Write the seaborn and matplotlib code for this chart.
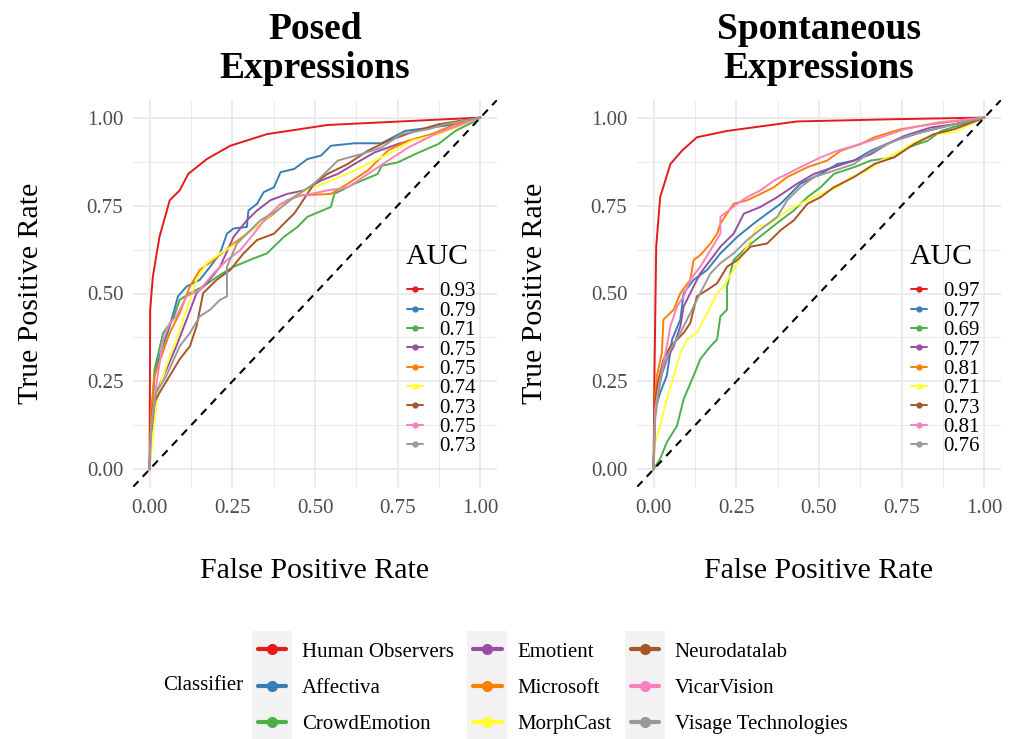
import numpy as np
import pandas as pd
import matplotlib.pyplot as plt
import seaborn as sns
from matplotlib.lines import Line2D
from matplotlib.patches import Rectangle

# classifiers, colours (Set1) and AUC values shown in each panel
classifiers = ["Human Observers", "Affectiva", "CrowdEmotion", "Emotient", "Microsoft",
               "MorphCast", "Neurodatalab", "VicarVision", "Visage Technologies"]
auc_posed = ["0.93", "0.79", "0.71", "0.75", "0.75", "0.74", "0.73", "0.75", "0.73"]
auc_spont = ["0.97", "0.77", "0.69", "0.77", "0.81", "0.71", "0.73", "0.81", "0.76"]
ticks = [0, 0.25, 0.5, 0.75, 1.0]
tick_labels = ["0.00", "0.25", "0.50", "0.75", "1.00"]
minor_ticks = [0.125, 0.375, 0.625, 0.875]

# ROC points (fpr, tpr)
posed_human = [(0, 0), (0.002, 0.454), (0.010, 0.548), (0.030, 0.661), (0.061, 0.765),
               (0.091, 0.793), (0.117, 0.840), (0.173, 0.882), (0.244, 0.920),
               (0.355, 0.953), (0.538, 0.979), (1, 1)]
posed_affectiva = [(0, 0), (0.005, 0.124), (0.015, 0.266), (0.030, 0.322), (0.061, 0.407),
                   (0.086, 0.492), (0.112, 0.520), (0.152, 0.539), (0.183, 0.576),
                   (0.213, 0.614), (0.234, 0.670), (0.254, 0.685), (0.294, 0.689),
                   (0.299, 0.736), (0.325, 0.755), (0.345, 0.788), (0.376, 0.802),
                   (0.396, 0.845), (0.437, 0.854), (0.477, 0.882), (0.518, 0.892),
                   (0.548, 0.920), (0.619, 0.927), (0.701, 0.927), (0.772, 0.962),
                   (0.924, 0.981), (1, 1)]
posed_crowd = [(0, 0), (0.005, 0.124), (0.015, 0.284), (0.041, 0.388), (0.071, 0.426),
               (0.091, 0.482), (0.122, 0.501), (0.162, 0.520), (0.213, 0.553),
               (0.254, 0.576), (0.315, 0.600), (0.355, 0.614), (0.406, 0.661),
               (0.447, 0.689), (0.477, 0.718), (0.548, 0.746), (0.558, 0.783),
               (0.619, 0.812), (0.690, 0.840), (0.701, 0.863), (0.751, 0.873),
               (0.802, 0.896), (0.873, 0.925), (0.924, 0.962), (0.975, 0.986), (1, 1)]
posed_emotient = [(0, 0), (0.005, 0.077), (0.020, 0.218), (0.051, 0.284), (0.081, 0.350),
                  (0.112, 0.426), (0.142, 0.501), (0.173, 0.529), (0.213, 0.576),
                  (0.254, 0.661), (0.294, 0.708), (0.325, 0.736), (0.365, 0.765),
                  (0.416, 0.783), (0.467, 0.793), (0.518, 0.821), (0.569, 0.840),
                  (0.619, 0.868), (0.680, 0.901), (0.751, 0.925), (0.822, 0.944),
                  (0.893, 0.962), (1, 1)]
posed_microsoft = [(0, 0), (0.005, 0.171), (0.015, 0.266), (0.036, 0.322), (0.061, 0.388),
                   (0.091, 0.444), (0.122, 0.520), (0.152, 0.567), (0.193, 0.595),
                   (0.254, 0.642), (0.294, 0.670), (0.335, 0.699), (0.376, 0.727),
                   (0.416, 0.765), (0.457, 0.779), (0.548, 0.783), (0.599, 0.812),
                   (0.660, 0.850), (0.721, 0.907), (0.782, 0.934), (0.853, 0.953),
                   (0.924, 0.981), (1, 1)]
posed_morphcast = [(0, 0), (0.010, 0.096), (0.025, 0.218), (0.051, 0.294), (0.081, 0.369),
                   (0.112, 0.454), (0.142, 0.539), (0.173, 0.586), (0.213, 0.614),
                   (0.264, 0.642), (0.294, 0.670), (0.345, 0.708), (0.396, 0.746),
                   (0.447, 0.783), (0.497, 0.802), (0.548, 0.821), (0.619, 0.849),
                   (0.680, 0.878), (0.741, 0.906), (0.792, 0.934), (0.873, 0.953), (1, 1)]
posed_neuro = [(0, 0), (0.002, 0.077), (0.010, 0.181), (0.030, 0.218), (0.061, 0.266),
               (0.091, 0.313), (0.122, 0.350), (0.142, 0.407), (0.162, 0.501),
               (0.203, 0.539), (0.244, 0.567), (0.284, 0.614), (0.325, 0.652),
               (0.376, 0.670), (0.416, 0.708), (0.437, 0.727), (0.457, 0.755),
               (0.497, 0.812), (0.538, 0.840), (0.599, 0.868), (0.660, 0.906),
               (0.721, 0.934), (0.792, 0.958), (0.873, 0.981), (1, 1)]
posed_vicar = [(0, 0), (0.005, 0.124), (0.020, 0.237), (0.041, 0.369), (0.061, 0.416),
               (0.081, 0.435), (0.112, 0.492), (0.152, 0.510), (0.193, 0.557),
               (0.234, 0.595), (0.274, 0.623), (0.315, 0.670), (0.355, 0.718),
               (0.396, 0.755), (0.437, 0.774), (0.487, 0.783), (0.538, 0.793),
               (0.599, 0.802), (0.660, 0.840), (0.721, 0.878), (0.782, 0.915),
               (0.863, 0.953), (1, 1)]
posed_visage = [(0, 0), (0.005, 0.124), (0.020, 0.218), (0.051, 0.266), (0.091, 0.350),
                (0.122, 0.388), (0.152, 0.435), (0.183, 0.454), (0.213, 0.482),
                (0.234, 0.492), (0.234, 0.576), (0.264, 0.642), (0.294, 0.670),
                (0.335, 0.708), (0.386, 0.736), (0.437, 0.774), (0.497, 0.812),
                (0.538, 0.849), (0.569, 0.878), (0.640, 0.896), (0.701, 0.915),
                (0.761, 0.953), (0.843, 0.967), (0.893, 0.981), (1, 1)]

# ROC points (fpr, tpr)
spont_human = [(0, 0), (0.002, 0.218), (0.008, 0.633), (0.020, 0.774), (0.051, 0.868),
               (0.086, 0.906), (0.131, 0.944), (0.222, 0.962), (0.434, 0.989),
               (0.707, 0.995), (1, 1)]
spont_affectiva = [(0, 0), (0.005, 0.171), (0.020, 0.218), (0.040, 0.266), (0.056, 0.369),
                   (0.081, 0.426), (0.091, 0.501), (0.121, 0.539), (0.162, 0.567),
                   (0.202, 0.614), (0.253, 0.661), (0.303, 0.699), (0.343, 0.727),
                   (0.384, 0.755), (0.444, 0.812), (0.505, 0.840), (0.556, 0.868),
                   (0.606, 0.878), (0.657, 0.906), (0.727, 0.934), (0.808, 0.958),
                   (0.909, 0.981), (1, 1)]
spont_crowd = [(0, 0), (0.020, 0.030), (0.040, 0.077), (0.071, 0.124), (0.091, 0.200),
               (0.121, 0.266), (0.141, 0.313), (0.172, 0.350), (0.192, 0.369),
               (0.202, 0.435), (0.222, 0.454), (0.222, 0.520), (0.242, 0.595),
               (0.283, 0.633), (0.333, 0.670), (0.384, 0.708), (0.424, 0.736),
               (0.465, 0.774), (0.505, 0.802), (0.545, 0.840), (0.606, 0.859),
               (0.657, 0.878), (0.727, 0.887), (0.768, 0.915), (0.828, 0.934),
               (0.869, 0.962), (1, 1)]
spont_emotient = [(0, 0), (0.005, 0.171), (0.020, 0.256), (0.040, 0.313), (0.061, 0.350),
                  (0.081, 0.407), (0.091, 0.463), (0.121, 0.520), (0.141, 0.557),
                  (0.172, 0.595), (0.202, 0.633), (0.242, 0.670), (0.273, 0.727),
                  (0.323, 0.746), (0.374, 0.774), (0.434, 0.812), (0.485, 0.840),
                  (0.545, 0.859), (0.606, 0.878), (0.657, 0.896), (0.707, 0.925),
                  (0.758, 0.948), (0.838, 0.972), (0.909, 0.981), (1, 1)]
spont_microsoft = [(0, 0), (0.005, 0.218), (0.010, 0.266), (0.025, 0.331), (0.030, 0.426),
                   (0.061, 0.454), (0.081, 0.501), (0.111, 0.539), (0.121, 0.595),
                   (0.141, 0.609), (0.172, 0.642), (0.192, 0.670), (0.202, 0.699),
                   (0.222, 0.727), (0.242, 0.755), (0.283, 0.765), (0.323, 0.783),
                   (0.364, 0.802), (0.404, 0.831), (0.465, 0.859), (0.525, 0.878),
                   (0.566, 0.906), (0.626, 0.925), (0.667, 0.944), (0.747, 0.967),
                   (0.838, 0.981), (1, 1)]
spont_morphcast = [(0, 0), (0.005, 0.077), (0.020, 0.124), (0.040, 0.200), (0.061, 0.266),
                   (0.081, 0.331), (0.101, 0.369), (0.131, 0.388), (0.162, 0.444),
                   (0.192, 0.501), (0.212, 0.520), (0.253, 0.586), (0.283, 0.633),
                   (0.313, 0.689), (0.354, 0.699), (0.404, 0.736), (0.444, 0.755),
                   (0.505, 0.783), (0.556, 0.802), (0.596, 0.831), (0.646, 0.849),
                   (0.687, 0.878), (0.737, 0.901), (0.788, 0.929), (0.848, 0.953),
                   (0.909, 0.958), (1, 1)]
spont_neuro = [(0, 0), (0.005, 0.200), (0.015, 0.256), (0.030, 0.313), (0.051, 0.350),
               (0.071, 0.369), (0.091, 0.388), (0.111, 0.416), (0.131, 0.492),
               (0.162, 0.510), (0.192, 0.529), (0.222, 0.576), (0.253, 0.595),
               (0.293, 0.633), (0.343, 0.642), (0.384, 0.680), (0.424, 0.708),
               (0.465, 0.755), (0.505, 0.774), (0.545, 0.802), (0.606, 0.831),
               (0.667, 0.868), (0.727, 0.887), (0.788, 0.925), (0.848, 0.953),
               (0.909, 0.967), (1, 1)]
spont_vicar = [(0, 0), (0.005, 0.171), (0.020, 0.256), (0.040, 0.350), (0.051, 0.407),
               (0.071, 0.463), (0.091, 0.492), (0.111, 0.539), (0.141, 0.576),
               (0.172, 0.623), (0.202, 0.670), (0.202, 0.718), (0.253, 0.755),
               (0.283, 0.774), (0.323, 0.793), (0.364, 0.821), (0.404, 0.840),
               (0.444, 0.859), (0.505, 0.887), (0.556, 0.906), (0.626, 0.925),
               (0.687, 0.944), (0.758, 0.967), (0.859, 0.986), (1, 1)]
spont_visage = [(0, 0), (0.005, 0.143), (0.015, 0.218), (0.030, 0.294), (0.051, 0.341),
                (0.081, 0.388), (0.111, 0.444), (0.141, 0.501), (0.172, 0.557),
                (0.202, 0.586), (0.242, 0.614), (0.283, 0.652), (0.333, 0.689),
                (0.374, 0.718), (0.404, 0.765), (0.444, 0.802), (0.485, 0.831),
                (0.545, 0.849), (0.606, 0.868), (0.646, 0.896), (0.707, 0.925),
                (0.768, 0.948), (0.848, 0.967), (0.909, 0.981), (1, 1)]

posed_curves = [posed_human, posed_affectiva, posed_crowd, posed_emotient, posed_microsoft,
                posed_morphcast, posed_neuro, posed_vicar, posed_visage]
spont_curves = [spont_human, spont_affectiva, spont_crowd, spont_emotient, spont_microsoft,
                spont_morphcast, spont_neuro, spont_vicar, spont_visage]


def to_frame(curves):
    rows = []
    for name, pts in zip(classifiers, curves):
        for f, t in pts:
            rows.append({"classifier": name, "fpr": f, "tpr": t})
    return pd.DataFrame(rows)


sns.set_theme(style="whitegrid")
plt.rcParams["font.family"] = ["Liberation Serif", "DejaVu Serif"]
plt.rcParams["text.color"] = "black"
plt.rcParams["axes.labelcolor"] = "black"
palette = sns.color_palette("Set1", 9)

fig = plt.figure(figsize=(10.2, 7.39), dpi=100)
W, H = 1020, 739
ax_left = fig.add_axes([133 / W, 1 - 487 / H, 364 / W, 387 / H])
ax_right = fig.add_axes([637 / W, 1 - 487 / H, 364 / W, 387 / H])

panels = [
    (ax_left, posed_curves, auc_posed, "Posed\nExpressions"),
    (ax_right, spont_curves, auc_spont, "Spontaneous\nExpressions"),
]

for ax, curves, aucs, title in panels:
    df = to_frame(curves)
    sns.lineplot(data=df, x="fpr", y="tpr", hue="classifier", hue_order=classifiers,
                 palette=palette, sort=False, estimator=None, linewidth=1.4,
                 legend=False, ax=ax)
    ax.axline((0, 0), slope=1, color="black", linewidth=1.5, linestyle=(0, (3.8, 3.0)))

    ax.set_xlim(-0.05, 1.05)
    ax.set_ylim(-0.05, 1.05)
    ax.set_xticks(ticks)
    ax.set_xticklabels(tick_labels)
    ax.set_yticks(ticks)
    ax.set_yticklabels(tick_labels)
    ax.set_xticks(minor_ticks, minor=True)
    ax.set_yticks(minor_ticks, minor=True)
    ax.grid(which="major", color="#EBEBEB", linewidth=1.4)
    ax.grid(which="minor", color="#EBEBEB", linewidth=0.7)
    ax.tick_params(which="both", length=0, labelsize=15, labelcolor="#4D4D4D", pad=7)
    ax.tick_params(axis="x", pad=8.5)
    for s in ax.spines.values():
        s.set_visible(False)
    ax.set_facecolor("white")

    ax.set_xlabel("False Positive Rate", fontsize=21.5)
    ax.set_ylabel("True Positive Rate", fontsize=21.5)
    ax.xaxis.set_label_coords(0.5, -0.183)
    ax.yaxis.set_label_coords(-0.245, 0.5)
    ax.set_title(title, fontsize=27, fontweight="bold", pad=16, linespacing=1.14,
                 color="black")

    # AUC legend inside the panel
    ax.text(0.748, 0.595, "AUC", transform=ax.transAxes, fontsize=21.5,
            ha="left", va="center")
    handles = [Line2D([], [], color=c, linewidth=1.4, marker="o", markersize=3.5)
               for c in palette]
    leg = ax.legend(handles, aucs, loc="upper left", bbox_to_anchor=(0.752, 0.53),
                    frameon=False, fontsize=15, handlelength=0.8, handletextpad=0.75,
                    labelspacing=-0.01, borderpad=0, borderaxespad=0)

# bottom legend for classifiers
fig.text(163 / W, 1 - 686 / H, "Classifier", fontsize=15, ha="left", va="center")
key_handles = [Line2D([], [], color=c, linewidth=3, marker="o", markersize=7)
               for c in palette]
big_leg = fig.legend(key_handles, classifiers, ncol=3, loc="center left",
                     bbox_to_anchor=(258 / W, 1 - 688 / H), frameon=False, fontsize=15,
                     handlelength=1.35, handletextpad=0.75, columnspacing=0.95,
                     labelspacing=0.79, borderpad=0, borderaxespad=0)

# grey key backgrounds behind each legend column
fig.canvas.draw()
renderer = fig.canvas.get_renderer()
for col in range(3):
    exts = [h.get_window_extent(renderer) for h in big_leg.legend_handles[col * 3:col * 3 + 3]]
    xc = np.mean([(e.x0 + e.x1) / 2 for e in exts])
    ytop = max((e.y0 + e.y1) / 2 for e in exts) + 18.5
    ybot = min((e.y0 + e.y1) / 2 for e in exts) - 18.5
    fig.add_artist(Rectangle(((xc - 20) / W, ybot / H), 40 / W, (ytop - ybot) / H,
                             transform=fig.transFigure, facecolor="#F2F2F2",
                             edgecolor="none", zorder=0))

fig.savefig("out.png", dpi=100)
